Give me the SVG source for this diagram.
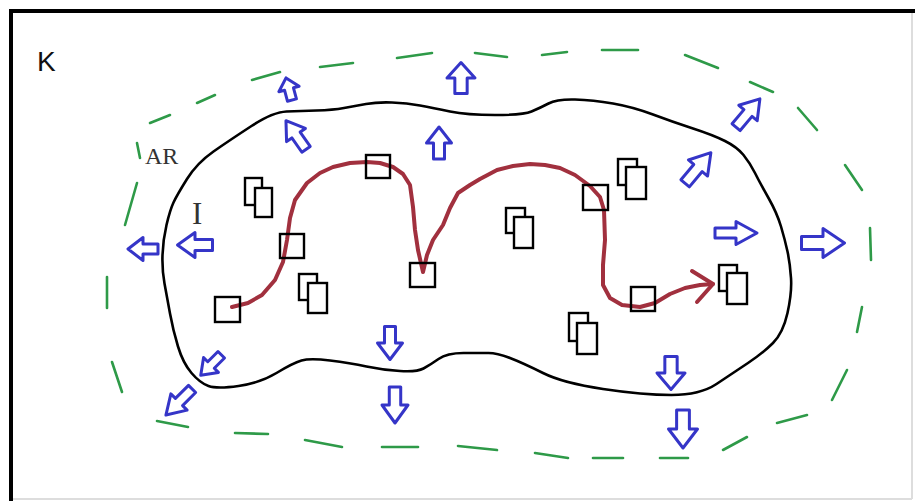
<svg xmlns="http://www.w3.org/2000/svg" xmlns:xlink="http://www.w3.org/1999/xlink" width="915" height="501" viewBox="0 0 915 501">
<style>
.frame{stroke:#000;stroke-width:4;fill:none}
.blob{stroke:#000;stroke-width:2.6;fill:none;stroke-linejoin:round}
.zone line{stroke:#2e9a48;stroke-width:2.6;stroke-linecap:round}
.route{stroke:#a1303e;stroke-width:4;fill:none;stroke-linejoin:round;stroke-linecap:round}
.sq{stroke:#000;stroke-width:2.4;fill:none}
.doc rect{stroke:#000;stroke-width:2.4;fill:#fff}
.arr{stroke:#3535c8;stroke-width:3;fill:#fff;stroke-linejoin:round}
.lbl{font-family:"Liberation Serif",serif;fill:#333}
</style>
<defs>
<path id="ar" class="arr" vector-effect="non-scaling-stroke" d="M0,-0.5 L0.5,0 L0.22,0 L0.22,0.5 L-0.22,0.5 L-0.22,0 L-0.5,0 Z"/>
</defs>
<rect x="0" y="0" width="915" height="501" fill="#fff"/>
<g id="frame">
<line x1="912" y1="12" x2="912" y2="499" stroke="#ddd" stroke-width="2"/>
<line x1="11" y1="499" x2="912" y2="499" stroke="#ddd" stroke-width="2"/>
<polyline class="frame" points="11,501 11,11 915,11"/>
</g>
<g id="labels">
<text x="37" y="71" font-family="Liberation Sans, sans-serif" font-size="28" fill="#111">K</text>
<text class="lbl" x="145" y="164" font-size="24">AR</text>
<text class="lbl" x="192" y="224" font-size="31" fill="#2f3a38">I</text>
</g>
<g id="region-I">
<path class="blob" d="M251.5,126 Q273,112 286.5,111.5 Q300,111 316.5,110.5 Q333,110 344,108 Q355,106 366,104 Q377,102 392,102.5 Q407,103 420,105.5 Q433,108 450,111.5 Q467,115 495,115 Q523,115 531.5,111.5 Q540,108 548.5,103.5 Q557,99 575,99.5 Q593,100 613,103.5 Q633,107 653,114.5 Q673,122 693,128.5 Q713,135 725,141 Q737,147 743.5,155 Q750,163 755,173 Q760,183 768.5,198 Q777,213 781,226.5 Q785,240 787.5,251.5 Q790,263 791,278 Q792,293 787.5,313 Q783,333 773,343 Q763,353 748,363 Q733,373 716.5,384 Q700,395 671.5,395 Q643,395 603,389 Q563,383 543,373 Q523,363 510,358 Q497,353 488.5,353 Q480,353 463.5,353 Q447,353 438.5,359 Q430,365 423.5,368.5 Q417,372 400,371 Q383,370 366.5,366.5 Q350,363 330,360.5 Q310,358 301.5,360.5 Q293,363 276.5,373 Q260,383 238.5,386 Q217,389 208.5,386 Q200,383 191.5,373 Q183,363 178,346.5 Q173,330 170,313.5 Q167,297 164.5,283.5 Q162,270 162.5,255 Q163,240 166.5,225 Q170,210 173.5,202.5 Q177,195 187,179 Q197,163 213.5,151.5 Q230,140 251.5,126 Z"/>
</g>
<g id="region-AR" class="zone">
<line x1="150" y1="123" x2="170" y2="115"/>
<line x1="197" y1="103" x2="215" y2="95"/>
<line x1="252" y1="80" x2="280" y2="72"/>
<line x1="320" y1="67" x2="353" y2="63"/>
<line x1="397" y1="58" x2="432" y2="53"/>
<line x1="475" y1="53" x2="507" y2="57"/>
<line x1="542" y1="55" x2="567" y2="52"/>
<line x1="602" y1="50" x2="638" y2="50"/>
<line x1="685" y1="55" x2="718" y2="68"/>
<line x1="750" y1="82" x2="773" y2="92"/>
<line x1="798" y1="108" x2="817" y2="130"/>
<line x1="845" y1="165" x2="862" y2="190"/>
<line x1="870" y1="228" x2="871" y2="260"/>
<line x1="862" y1="307" x2="857" y2="332"/>
<line x1="847" y1="370" x2="832" y2="400"/>
<line x1="807" y1="415" x2="777" y2="423"/>
<line x1="747" y1="437" x2="723" y2="450"/>
<line x1="688" y1="458" x2="660" y2="458"/>
<line x1="623" y1="458" x2="593" y2="458"/>
<line x1="568" y1="458" x2="535" y2="453"/>
<line x1="497" y1="450" x2="458" y2="446"/>
<line x1="418" y1="447" x2="382" y2="447"/>
<line x1="342" y1="447" x2="305" y2="440"/>
<line x1="268" y1="434" x2="235" y2="433"/>
<line x1="188" y1="427" x2="157" y2="421"/>
<line x1="122" y1="392" x2="112" y2="362"/>
<line x1="107" y1="308" x2="107" y2="277"/>
<line x1="125" y1="225" x2="137" y2="183"/>
<line x1="137" y1="143" x2="140" y2="158"/>
</g>
<g id="documents" class="doc">
<g id="doc1"><rect x="245" y="178" width="17" height="27"/><rect x="255" y="188" width="17" height="29"/></g>
<g id="doc2"><rect x="299" y="274" width="18" height="26"/><rect x="308" y="283" width="19" height="30"/></g>
<g id="doc3"><rect x="506" y="208" width="19" height="25"/><rect x="514" y="217" width="19" height="31"/></g>
<g id="doc4"><rect x="618" y="159" width="19" height="26"/><rect x="626" y="167" width="20" height="32"/></g>
<g id="doc5"><rect x="569" y="313" width="19" height="28"/><rect x="577" y="323" width="20" height="31"/></g>
<g id="doc6"><rect x="719" y="265" width="18" height="26"/><rect x="727" y="273" width="20" height="31"/></g>
</g>
<g id="connectors">
<polyline class="route" points="232,307 248,303 262,295 275,280 283,262 287,240 290,218 295,200 307,183 320,173 333,167 350,163 367,162 380,163 393,167 403,174 410,185 413,207 415,230 418,250 423,272 427,255 433,240 443,225 450,208 458,193 470,185 480,179 497,170 513,166 530,164 545,165 560,168 575,175 590,186 600,197 604,210 605,240 603,265 603,285 610,298 622,305 640,307 655,303 670,294 685,288 700,285 713,284"/>
<polyline class="route" points="692,271 713,284 697,302"/>
</g>
<g id="stations">
<rect class="sq" x="215" y="297" width="25" height="25"/>
<rect class="sq" x="280" y="234" width="24" height="24"/>
<rect class="sq" x="366" y="155" width="24" height="23"/>
<rect class="sq" x="410" y="263" width="25" height="24"/>
<rect class="sq" x="583" y="185" width="25" height="25"/>
<rect class="sq" x="631" y="287" width="24" height="24"/>
</g>
<g id="arrows">
<use xlink:href="#ar" transform="translate(461,78) scale(28,31)"/>
<use xlink:href="#ar" transform="translate(439,143) scale(25,32)"/>
<use xlink:href="#ar" transform="translate(289,89) rotate(-15) scale(21,23)"/>
<use xlink:href="#ar" transform="translate(296,135) rotate(-35) scale(23,35)"/>
<use xlink:href="#ar" transform="translate(748,113) rotate(40) scale(24,37)"/>
<use xlink:href="#ar" transform="translate(698,168) rotate(40) scale(25,40)"/>
<use xlink:href="#ar" transform="translate(736,233) rotate(90) scale(23,42)"/>
<use xlink:href="#ar" transform="translate(823,243) rotate(90) scale(29,43)"/>
<use xlink:href="#ar" transform="translate(195,245) rotate(-90) scale(25,35)"/>
<use xlink:href="#ar" transform="translate(143,249) rotate(-90) scale(23,30)"/>
<use xlink:href="#ar" transform="translate(390,343) rotate(180) scale(25,33)"/>
<use xlink:href="#ar" transform="translate(395,405) rotate(180) scale(26,36)"/>
<use xlink:href="#ar" transform="translate(671,373) rotate(180) scale(28,33)"/>
<use xlink:href="#ar" transform="translate(683,429) rotate(180) scale(29,38)"/>
<use xlink:href="#ar" transform="translate(211,365) rotate(-135) scale(21,29)"/>
<use xlink:href="#ar" transform="translate(179,402) rotate(-135) scale(23,37)"/>
</g>
</svg>
